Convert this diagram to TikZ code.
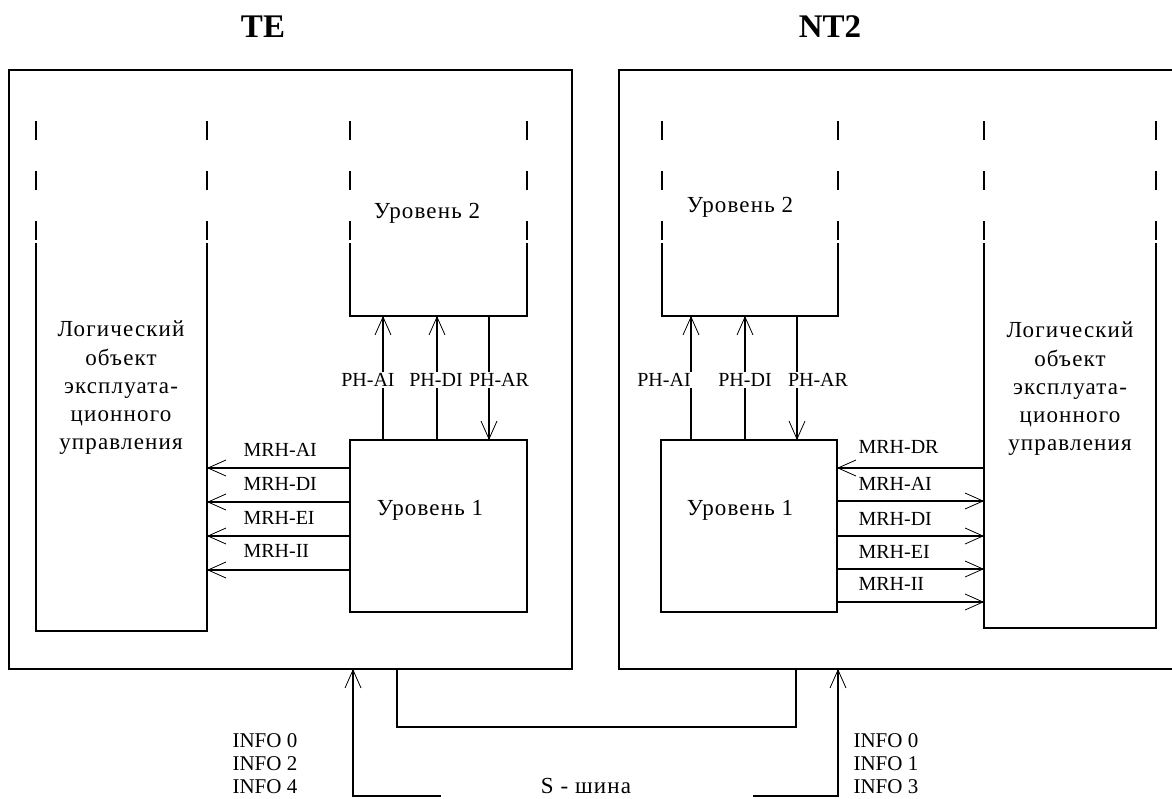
\documentclass[tikz,border=0pt]{standalone}
\usepackage{fontspec}
\setmainfont{Liberation Serif}
\newfontfamily\cyrfont[LetterSpace=5]{Liberation Serif}
\usetikzlibrary{arrows.meta}
\tikzset{
  txt/.style={font=\fontsize{20}{28}\selectfont, inner sep=1pt},
  itxt/.style={font=\fontsize{21}{28}\selectfont, inner sep=1pt, anchor=west},
  ctxt/.style={font=\fontsize{23}{28.3}\selectfont\cyrfont, inner sep=1pt, align=center},
  ttl/.style={font=\fontsize{33}{36}\selectfont\bfseries, inner sep=0pt},
  lbl/.style={txt, fill=white},
  ar/.style={-{Straight Barb[length=18pt,width=16pt,line width=0.8pt]}},
  outerbox/.style={draw, rectangle, inner sep=0pt, outer sep=0pt, anchor=north west},
  area/.style={rectangle, inner sep=0pt, outer sep=0pt, anchor=north west},
  topdash/.style={dash pattern=on 19pt off 31pt},
}
\begin{document}
\begin{tikzpicture}[x=1pt,y=-1pt,line width=1.1pt]
\useasboundingbox (0,0) rectangle (1172,798);

% titles
\node[ttl] (tteTE) at (263,27) {TE};
\node[ttl] (ttNT) at (830,27) {NT2};

% outer boxes
\node[outerbox, minimum width=563pt, minimum height=599pt] (te) at (9,70) {};
\node[outerbox, minimum width=556pt, minimum height=599pt] (nt) at (619,70) {};

% ---------- TE ----------
\node[area, minimum width=171pt, minimum height=388pt] (telog) at (36,243) {};
\draw (telog.north west) -- (telog.south west) -- (telog.south east) -- (telog.north east);
\draw[topdash] ([yshift=122pt]telog.north west) -- (telog.north west);
\draw[topdash] ([yshift=122pt]telog.north east) -- (telog.north east);
\node[ctxt] (telogt) at (121,388) {Логический\\объект\\эксплуата-\\ционного\\управления};

\node[area, minimum width=177pt, minimum height=73pt] (l2te) at (350,243) {};
\draw (l2te.north west) -- (l2te.south west) -- (l2te.south east) -- (l2te.north east);
\draw[topdash] ([yshift=122pt]l2te.north west) -- (l2te.north west);
\draw[topdash] ([yshift=122pt]l2te.north east) -- (l2te.north east);
\node[ctxt] (l2tet) at (427,213) {Уровень 2};

\node[outerbox, minimum width=177pt, minimum height=172pt] (l1te) at (350,440) {};
\node[ctxt] (l1tet) at (430,510) {Уровень 1};

% PH connectors TE
\draw[ar] ([xshift=33pt]l1te.north west) -- ([xshift=33pt]l1te.north west |- l2te.south);
\draw[ar] ([xshift=87pt]l1te.north west) -- ([xshift=87pt]l1te.north west |- l2te.south);
\draw[ar] ([xshift=139pt]l1te.north west |- l2te.south) -- ([xshift=139pt]l1te.north west);
\node[lbl] (phaite) at (368,380) {PH-AI};
\node[lbl] (phdite) at (436,380) {PH-DI};
\node[lbl] (pharte) at (499,380) {PH-AR};

% MRH connectors TE
\foreach \dy in {28,62,96,130}
  \draw[ar] ([yshift=-\dy pt]l1te.north west) -- ([yshift=-\dy pt]l1te.north west -| telog.east);
\node[txt, anchor=west] (m1te) at (242,450) {MRH-AI};
\node[txt, anchor=west] (m2te) at (242,484) {MRH-DI};
\node[txt, anchor=west] (m3te) at (242,518) {MRH-EI};
\node[txt, anchor=west] (m4te) at (242,551) {MRH-II};

% ---------- NT2 ----------
\node[area, minimum width=172pt, minimum height=385pt] (ntlog) at (984,243) {};
\draw (ntlog.north west) -- (ntlog.south west) -- (ntlog.south east) -- (ntlog.north east);
\draw[topdash] ([yshift=122pt]ntlog.north west) -- (ntlog.north west);
\draw[topdash] ([yshift=122pt]ntlog.north east) -- (ntlog.north east);
\node[ctxt] (ntlogt) at (1070,389) {Логический\\объект\\эксплуата-\\ционного\\управления};

\node[area, minimum width=176pt, minimum height=73pt] (l2nt) at (662,243) {};
\draw (l2nt.north west) -- (l2nt.south west) -- (l2nt.south east) -- (l2nt.north east);
\draw[topdash] ([yshift=122pt]l2nt.north west) -- (l2nt.north west);
\draw[topdash] ([yshift=122pt]l2nt.north east) -- (l2nt.north east);
\node[ctxt] (l2ntt) at (740,207) {Уровень 2};

\node[outerbox, minimum width=176pt, minimum height=172pt] (l1nt) at (661,440) {};
\node[ctxt] (l1ntt) at (740,510) {Уровень 1};

% PH connectors NT2
\draw[ar] ([xshift=30pt]l1nt.north west) -- ([xshift=30pt]l1nt.north west |- l2nt.south);
\draw[ar] ([xshift=84pt]l1nt.north west) -- ([xshift=84pt]l1nt.north west |- l2nt.south);
\draw[ar] ([xshift=136pt]l1nt.north west |- l2nt.south) -- ([xshift=136pt]l1nt.north west);
\node[lbl] (phaint) at (664,380) {PH-AI};
\node[lbl] (phdint) at (745,380) {PH-DI};
\node[lbl] (pharnt) at (818,380) {PH-AR};

% MRH connectors NT2
\draw[ar] ([yshift=-28pt]l1nt.north west -| ntlog.west) -- ([yshift=-28pt]l1nt.north east);
\foreach \dy in {61,96,129,162}
  \draw[ar] ([yshift=-\dy pt]l1nt.north east) -- ([yshift=-\dy pt]l1nt.north east -| ntlog.west);
\node[txt, anchor=west] (m0nt) at (857,447) {MRH-DR};
\node[txt, anchor=west] (m1nt) at (857,484) {MRH-AI};
\node[txt, anchor=west] (m2nt) at (857,519) {MRH-DI};
\node[txt, anchor=west] (m3nt) at (857,552) {MRH-EI};
\node[txt, anchor=west] (m4nt) at (857,584) {MRH-II};

% ---------- S bus ----------
\draw ([xshift=388pt]te.south west) -- ++(0,58) -| ([xshift=177pt]nt.south west);
\node[ctxt] (sbus) at (586,786) {S - шина};

\coordinate (inL) at (441,796);
\coordinate (inR) at (753,796);
\draw[ar] (inL) -| ([xshift=344pt]te.south west);
\draw[ar] (inR) -| ([xshift=219pt]nt.south west);

\node[itxt] (i0l) at (231,741) {INFO 0};
\node[itxt] (i2l) at (231,764) {INFO 2};
\node[itxt] (i4l) at (231,787) {INFO 4};
\node[itxt] (i0r) at (852,741) {INFO 0};
\node[itxt] (i1r) at (852,764) {INFO 1};
\node[itxt] (i3r) at (852,787) {INFO 3};
\end{tikzpicture}
\end{document}
